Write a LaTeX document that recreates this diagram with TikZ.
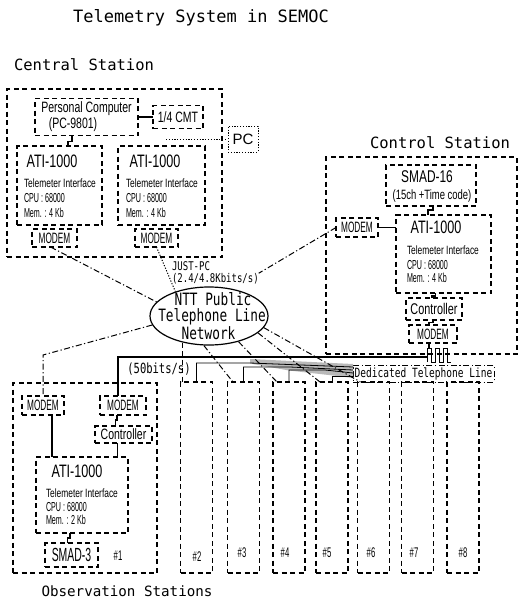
\documentclass[tikz,border=0pt]{standalone}
\usepackage{fontspec}
\setmainfont{Liberation Sans}
\newfontfamily\nar[FakeStretch=0.7]{Liberation Sans}
\newfontfamily\narr[FakeStretch=0.55]{Liberation Sans}
\newfontfamily\monow{DejaVu Sans Mono}
\newfontfamily\monon[FakeStretch=0.75]{DejaVu Sans Mono}
\usetikzlibrary{shapes.geometric}
\newcommand{\fs}[1]{\fontsize{#1}{#1}\selectfont}
\begin{document}
\begin{tikzpicture}[x=1pt,y=-1pt,
  box/.style={draw, line width=1.2pt, dash pattern=on 5pt off 3.5pt, inner sep=0pt, outer sep=0pt},
  dd/.style={line width=1pt, dash pattern=on 6pt off 2.5pt on 1.2pt off 2.5pt},
  dt/.style={line width=1pt, dash pattern=on 1.2pt off 1.6pt},
  dsh/.style={line width=1.2pt, dash pattern=on 5pt off 3.5pt},
  wire/.style={line width=1.1pt},
  thin/.style={line width=0.8pt},
  lbl/.style={inner sep=0pt, outer sep=0pt},
  boxlbl/.style={lbl, font=\narr\fs{15}},
  numlbl/.style={lbl, font=\narr\fs{14}},
  atit/.style={lbl, font=\nar\fs{18}},
  smallt/.style={lbl, anchor=west, font=\nar\fs{12}},
  tinyt/.style={lbl, anchor=west, font=\narr\fs{13}},
  bigt/.style={lbl, font=\monow\fs{15.5}},
]
\useasboundingbox (0,0) rectangle (520,605);

% ---------- titles ----------
\node[lbl, font=\monow\fs{17}] (title) at (201,18) {Telemetry System in SEMOC};
\node[bigt] (lcen) at (84,65) {Central Station};
\node[bigt] (lcon) at (440,143) {Control Station};
\node[lbl, font=\monow\fs{14.2}] (lobs) at (127,591) {Observation Stations};

% ---------- central station ----------
\node[box, minimum width=215pt, minimum height=168pt] (central) at (114.5,173) {};
\node[box, minimum width=103pt, minimum height=37pt] (pc) at (86.5,117) {};
\node[lbl, font=\nar\fs{15}] (pct1) at (86.5,109) {Personal Computer};
\node[lbl, font=\nar\fs{15}] (pct2) at (73,125) {(PC-9801)};
\node[box, minimum width=50pt, minimum height=23pt, font=\nar\fs{15}] (cmt) at (178,117) {1/4 CMT};
\node[draw, dt, minimum width=30pt, minimum height=26pt, inner sep=0pt, font=\fs{15}] (pcx) at (243,139) {PC};
\coordinate (pcd) at (166,139);

\node[box, minimum width=85pt, minimum height=79pt] (atiL) at (59.5,185.5) {};
\node[atit] (atiLt) at (52,161) {ATI-1000};
\node[smallt] (atiLa) at (24,183) {Telemeter Interface};
\node[tinyt] (atiLb) at (24,198) {CPU : 68000};
\node[tinyt] (atiLc) at (24,213) {Mem. : 4 Kb};

\node[box, minimum width=87pt, minimum height=79pt] (atiR) at (161.5,185.5) {};
\node[atit] (atiRt) at (155,161) {ATI-1000};
\node[smallt] (atiRa) at (126,183) {Telemeter Interface};
\node[tinyt] (atiRb) at (126,198) {CPU : 68000};
\node[tinyt] (atiRc) at (126,213) {Mem. : 4 Kb};

\node[box, boxlbl, minimum width=45pt, minimum height=18pt] (modemL1) at (54.5,238) {MODEM};
\node[box, boxlbl, minimum width=43pt, minimum height=18pt] (modemR1) at (156.5,238) {MODEM};

\draw[wire] (pc.east) -- (cmt.west);
\draw[dt] (pcd) -- (pcx.west);
\draw[wire] ([xshift=-14.5pt]pc.south) -- ++(0,6) -| ([xshift=8.5pt]atiL.north);

% ---------- NTT network ----------
\node[draw, ellipse, line width=1.2pt, minimum width=118pt, minimum height=58pt, inner sep=0pt] (ntt) at (209,316) {};
\node[lbl, font=\monon\fs{17}] (ntt1) at (213,299) {NTT Public};
\node[lbl, font=\monon\fs{17}] (ntt2) at (212,317) {Telephone Line};
\node[lbl, font=\monon\fs{17}] (ntt3) at (208.5,333) {Network};
\node[lbl, font=\monon\fs{12}, align=left, anchor=north west] (jl) at (172,262) {JUST-PC\\(2.4/4.8Kbits/s)};

% ---------- control station ----------
\node[box, minimum width=191pt, minimum height=197pt] (control) at (421.5,255.5) {};
\node[box, minimum width=90pt, minimum height=41pt] (smad16) at (431,185.5) {};
\node[lbl, font=\nar\fs{17}] (smad16a) at (427,177) {SMAD-16};
\node[lbl, font=\nar\fs{13.5}] (smad16b) at (432,196) {(15ch +Time code)};
\node[box, minimum width=95pt, minimum height=78pt] (atiC) at (443.5,254) {};
\node[atit] (atiCt) at (436,227) {ATI-1000};
\node[smallt] (atiCa) at (407,250) {Telemeter Interface};
\node[tinyt] (atiCb) at (407,265) {CPU : 68000};
\node[tinyt] (atiCc) at (407,278) {Mem. : 4 Kb};
\node[box, boxlbl, minimum width=42pt, minimum height=19pt] (modemC1) at (357,227.5) {MODEM};
\node[box, lbl, font=\nar\fs{15.5}, minimum width=56pt, minimum height=22pt] (ctrlC) at (434,309) {Controller};
\node[box, boxlbl, minimum width=48pt, minimum height=18pt] (modemC2) at (433,334) {MODEM};
\node[draw, dd, minimum width=141pt, minimum height=17pt, inner sep=0pt, font=\monon\fs{12.7}] (ded) at (423.5,373.5) {Dedicated Telephone Line};
\coordinate (jct) at (427,357);

\draw[wire] (modemC1.east) -- (modemC1.east -| atiC.west);
\draw[wire] ([xshift=2pt]smad16.south) -- ++(0,4) -| ([xshift=-15.5pt]atiC.north);
\draw[wire] ([xshift=-8pt]atiC.south) -- ++(0,3) -| ([xshift=-2pt]ctrlC.north);
\draw[wire] ([xshift=-1pt]ctrlC.south) -- ++(0,2.5) -| ([xshift=-4pt]modemC2.north);
\draw[wire] ([xshift=-4pt]modemC2.south) -- ++(0,5);
\draw[line width=0.9pt] (427,362) -- (427,348) -- (431,348) -- (431,362) -- (435,362) -- (435,348)
  -- (439,348) -- (439,362) -- (443,362) -- (443,348) -- (447,348) -- (447,362) -- (451,362);

% ---------- observation stations ----------
\node[box, minimum width=144pt, minimum height=190pt] (obs1) at (85,478) {};
\node[box, boxlbl, minimum width=42pt, minimum height=19pt] (modemO1) at (43,405.5) {MODEM};
\node[box, boxlbl, minimum width=46pt, minimum height=19pt] (modemO2) at (123,405.5) {MODEM};
\node[box, lbl, font=\nar\fs{15}, minimum width=57pt, minimum height=17pt] (ctrlO) at (123.5,434.5) {Controller};
\node[box, minimum width=92pt, minimum height=76pt] (atiO) at (82,495) {};
\node[atit] (atiOt) at (77,471) {ATI-1000};
\node[smallt] (atiOa) at (46,493) {Telemeter Interface};
\node[tinyt] (atiOb) at (46,507) {CPU : 68000};
\node[tinyt] (atiOc) at (46,520) {Mem. : 2 Kb};
\node[box, font=\narr\fs{19}, minimum width=53pt, minimum height=24pt] (smad3) at (71.5,555) {SMAD-3};
\node[numlbl] (n1) at (118,556) {\#1};

\draw[wire] ([xshift=9pt]modemO1.south) -- ([xshift=9pt]modemO1.south |- atiO.north);
\draw[wire] ([xshift=-6pt]modemO2.south) -- ++(0,5) -| ([xshift=-8pt]ctrlO.north);
\draw[wire] ([xshift=-6pt]ctrlO.south) -- ([xshift=-6pt]ctrlO.south |- atiO.north);
\draw[wire] ([xshift=-12pt]atiO.south) -- ++(0,5) -| ([xshift=-4pt]smad3.north);

\foreach \n/\x in {2/196.5, 3/243.5, 4/289, 5/332, 6/373.5, 7/417.5, 8/463} {
  \node[box, minimum width=32pt, minimum height=191pt] (st\n) at (\x,477.5) {};
}
\node[numlbl] (n2) at (197,557) {\#2};
\node[numlbl] (n3) at (242,553) {\#3};
\node[numlbl] (n4) at (285,553) {\#4};
\node[numlbl] (n5) at (327,553) {\#5};
\node[numlbl] (n6) at (371,553) {\#6};
\node[numlbl] (n7) at (414,553) {\#7};
\node[numlbl] (n8) at (463,553) {\#8};

\node[lbl, font=\monon\fs{14}] (bps) at (159,369) {(50bits/s)};

% ---------- dedicated line bundle ----------
\fill[gray!55] (250,359) -- (353,364) -- (353,378) -- (333,375.5) -- (289,370.5) -- (250,363.5) -- cycle;
\coordinate (b2) at (250,363);
\coordinate (b3) at (290,367);
\coordinate (b4) at (325,370);
\coordinate (e2) at (353,367);
\coordinate (e3) at (353,370);
\coordinate (e4) at (353,373);
\coordinate (e5) at (353,376);
\draw[thin] (st2.north) |- (b2) -- (e2);
\draw[thin] (st3.north) |- (b3) -- (e3);
\draw[thin] (st4.north) |- (b4) -- (e4);
\draw[thin] (st5.north) |- (e5);
\draw[wire] ([xshift=-5pt]modemO2.north) |- (jct);

% ---------- links to the network ----------
\coordinate (bendO) at (43,355);
\draw[dd] ([xshift=-4pt]modemL1.south) -- (ntt.165);
\draw[dt] (modemR1.south) -- (ntt.144);
\draw[dd] (modemC1.west) -- (jl.east);
\draw[dsh] (ntt.225) -- (ntt.225 |- st2.north);
\draw[dd] (ntt.260) -- ([xshift=-10.5pt]st3.north);
\draw[dd] (ntt.319) -- ([xshift=-12pt]st4.north);
\draw[dd] (ntt.341) -- ([xshift=-12pt]st5.north);
\draw[dd] (ntt.348) -- ([xshift=-13pt]st6.north);
\draw[dd] (ntt.189) -- (bendO) -- (modemO1.north);
\end{tikzpicture}
\end{document}
